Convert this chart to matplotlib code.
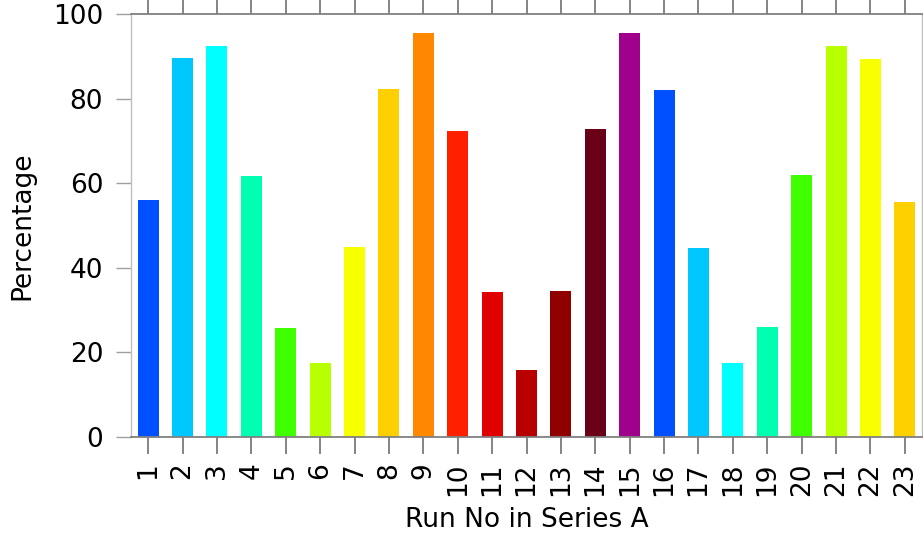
import matplotlib
matplotlib.use("Agg")
import matplotlib.pyplot as plt

# run numbers and their percentages
runs = list(range(1, 24))
percentages = [56.0, 89.6, 92.5, 61.7, 25.7, 17.5, 44.8, 82.2, 95.6, 72.4, 34.2, 15.8,
               34.6, 72.9, 95.6, 82.0, 44.6, 17.4, 26.0, 62.0, 92.5, 89.3, 55.6]
bar_colors = ['#0050ff', '#00c8ff', '#00ffff', '#00ffb0', '#40ff00', '#b8ff00',
              '#f8ff00', '#ffd000', '#ff8800', '#ff2000', '#e00000', '#b80000',
              '#900000', '#6a0018', '#a0008c', '#0050ff', '#00c8ff', '#00ffff',
              '#00ffb0', '#40ff00', '#b8ff00', '#f8ff00', '#ffd000']
y_ticks = [0, 20, 40, 60, 80, 100]

plt.rcParams['font.family'] = ['DejaVu Sans']

fig = plt.figure(figsize=(9.23, 5.37), dpi=100)
ax = fig.add_axes([131 / 923, 1 - 437 / 537, (922 - 131) / 923, (437 - 14) / 537])

ax.bar(runs, percentages, width=0.61, color=bar_colors, edgecolor='none')

ax.set_xlim(0.5, 23.5)
ax.set_ylim(0, 100)
ax.set_xticks(runs)
ax.set_xticklabels([str(r) for r in runs], rotation=90, fontsize=19)
ax.set_yticks(y_ticks)
ax.set_yticklabels([str(v) for v in y_ticks], fontsize=19)

ax.tick_params(axis='x', which='both', direction='out', length=12, width=1.2,
               color='#707070', top=True, pad=6)
ax.tick_params(axis='y', direction='out', length=11, width=1.0,
               color='#a0a0a0', pad=9)

for side in ['top', 'bottom']:
    ax.spines[side].set_color('#808080')
    ax.spines[side].set_linewidth(1.3)
for side in ['left', 'right']:
    ax.spines[side].set_color('#c0c0c0')
    ax.spines[side].set_linewidth(1.0)

ax.set_xlabel('Run No in Series A', fontsize=19, labelpad=8)
ax.set_ylabel('Percentage', fontsize=19, labelpad=13)

fig.savefig('out.png', dpi=100)
